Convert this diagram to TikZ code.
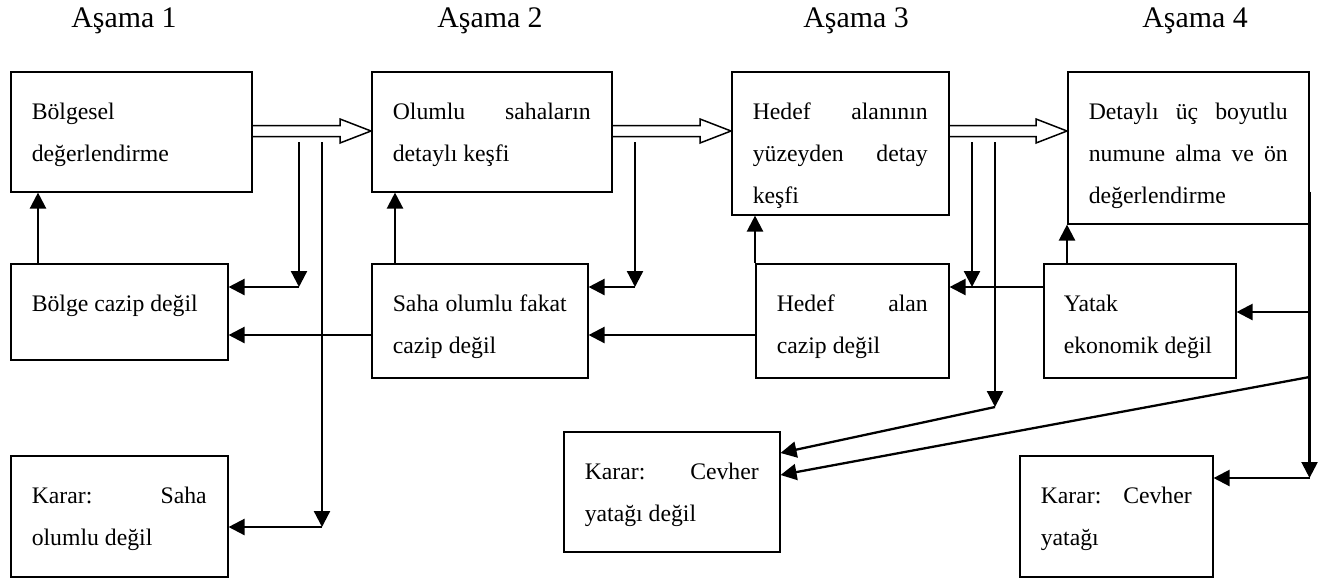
\documentclass[tikz,border=0pt]{standalone}
\usepackage{fontspec}
\setmainfont{Liberation Serif}
\usetikzlibrary{arrows.meta,calc,positioning}
\tolerance=10000 \hbadness=10000 \hyphenpenalty=10000
\newcommand{\hollowarrow}[2]{\draw[hollow] ($(#1)+(0,-5.5)$) -- ($(#2)+(-31,-5.5)$) -- ($(#2)+(-31,-12)$) -- (#2) -- ($(#2)+(-31,12)$) -- ($(#2)+(-31,5.5)$) -- ($(#1)+(0,5.5)$);}

\begin{document}
\begin{tikzpicture}[x=0.02cm,y=-0.02cm,
  box/.style={draw,line width=0.9pt,anchor=north west,align=justify,inner xsep=0.42cm,inner ysep=0pt,text height=0.96cm,font=\fontsize{13.5pt}{23.9pt}\selectfont},
  head/.style={anchor=base,font=\fontsize{17pt}{20pt}\selectfont},
  arr/.style={line width=1.3pt,-{Triangle[length=0.32cm,width=0.32cm]}},
  hollow/.style={line width=0.85pt,line join=miter}]
\useasboundingbox (0,0) rectangle (1324,579);

\node[head] (s1) at (124,27) {Aşama 1};
\node[head] (s2) at (490,27) {Aşama 2};
\node[head] (s3) at (856,27) {Aşama 3};
\node[head] (s4) at (1195,27) {Aşama 4};

\node[box,text width=3.98cm,text depth=1.44cm] (A) at (10,71) {Bölgesel\linebreak değerlendirme};
\node[box,text width=3.96cm,text depth=1.44cm] (B) at (371,71) {Olumlu sahaların\linebreak detaylı keşfi};
\node[box,text width=3.5cm,text depth=1.9cm] (C) at (731,71) {Hedef alanının\linebreak yüzeyden detay\linebreak keşfi};
\node[box,text width=3.98cm,text depth=2.08cm] (D) at (1067,71) {Detaylı üç boyutlu\linebreak numune alma ve ön\linebreak değerlendirme};

\node[box,text width=3.5cm,text depth=0.96cm] (E) at (10,263) {Bölge cazip değil};
\node[box,text width=3.48cm,text depth=1.32cm] (F) at (371,263) {Saha olumlu fakat\linebreak cazip değil};
\node[box,text width=3.02cm,text depth=1.32cm] (G) at (755,263) {Hedef alan\linebreak cazip değil};
\node[box,inner xsep=0.4cm,text width=3.04cm,text depth=1.32cm] (H) at (1043,263) {Yatak\linebreak ekonomik değil};

\node[box,text width=3.5cm,text depth=1.46cm] (I) at (10,455) {Karar: Saha\linebreak olumlu değil};
\node[box,text width=3.48cm,text depth=1.44cm] (J) at (563,431) {Karar: Cevher\linebreak yatağı değil};
\node[box,text width=3.02cm,text depth=1.46cm] (K) at (1019,455) {Karar: Cevher\linebreak yatağı};

\coordinate (r0) at (0,131);
\coordinate (r1) at (0,287);
\coordinate (r2) at (0,335);
\coordinate (r3) at (0,527);
\coordinate (r4) at (0,407);
\coordinate (r5) at (0,453);
\coordinate (r6) at (0,478);
\coordinate (r7) at (0,312);
\coordinate (r8) at (0,377);
\coordinate (r9) at (0,475);

\hollowarrow{A.east |- r0}{B.west |- r0}
\hollowarrow{B.east |- r0}{C.west |- r0}
\hollowarrow{C.east |- r0}{D.west |- r0}

\coordinate (d1) at (299,142);
\coordinate (d2) at (322,142);
\coordinate (d3) at (635,142);
\coordinate (d4) at (972,142);
\coordinate (d5) at (995,142);
\coordinate (e1) at ($(D.south east)+(0,-33)$);

\draw[arr] (d1) -- (d1 |- r1);
\draw[arr] (d1 |- r1) -- (E.east |- r1);
\draw[arr] (d2) -- (d2 |- r3);
\draw[arr] (d2 |- r3) -- (I.east |- r3);
\draw[arr] (d3) -- (d3 |- r1);
\draw[arr] (d3 |- r1) -- (F.east |- r1);
\draw[arr] (d4) -- (d4 |- r1);
\draw[arr] (d5) -- (d5 |- r4);
\draw[arr] (d5 |- r4) -- (J.east |- r5);

\draw[arr] (e1) -- (e1 |- r6);
\draw[arr] (e1 |- r6) -- (K.east |- r6);
\draw[arr] (e1 |- r7) -- (H.east |- r7);
\draw[arr] (e1 |- r8) -- (J.east |- r9);

\draw[arr] ($(E.north west)+(28,0)$) -- ($(A.south west)+(28,0)$);
\draw[arr] ($(F.north west)+(24,0)$) -- ($(B.south west)+(24,0)$);
\draw[arr] (G.north west) -- (G.north west |- C.south);
\draw[arr] (H.north -| D.south west) -- (D.south west);

\draw[arr] (F.west |- r2) -- (E.east |- r2);
\draw[arr] (G.west |- r2) -- (F.east |- r2);
\draw[arr] (H.west |- r1) -- (G.east |- r1);
\end{tikzpicture}
\end{document}
